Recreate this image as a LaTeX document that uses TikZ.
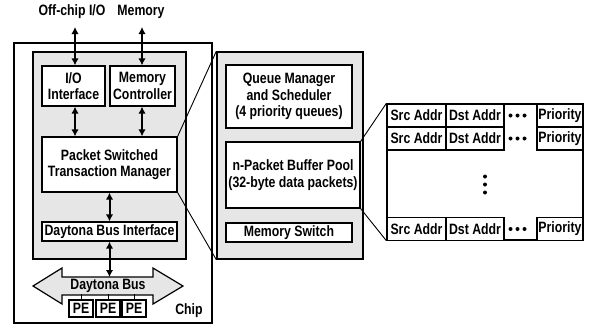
\documentclass[tikz,border=0pt]{standalone}
\usepackage{fontspec}
\setmainfont{Liberation Sans}[FakeStretch=0.82]
\usetikzlibrary{arrows.meta}
\definecolor{panelgray}{HTML}{E6E6E6}
\tikzset{
  txt/.style={font=\fontsize{15}{16.5}\selectfont\bfseries, inner sep=0pt, align=center},
  blk/.style={txt, draw, line width=1.3pt, fill=white},
  panel/.style={draw, line width=1.4pt, fill=panelgray},
  cell/.style={txt, draw, line width=1.3pt, fill=white, minimum height=23pt},
  biarrow/.style={line width=2pt, {Latex[length=7pt,width=7.5pt]}-{Latex[length=7pt,width=7.5pt]}},
  zoomline/.style={line width=0.9pt},
  dot/.style={fill, circle, inner sep=0pt, minimum size=4pt},
}
\begin{document}
\begin{tikzpicture}[x=1pt, y=-1pt]
\useasboundingbox (0,0) rectangle (589,327);

% ---------- chip ----------
\node[draw, line width=1.6pt, minimum width=198pt, minimum height=280pt, inner sep=0pt] (chip) at (113,183) {};
\node[panel, minimum width=153pt, minimum height=207pt, inner sep=0pt] (lp) at (109.5,155.5) {};

\node[blk, minimum width=63pt, minimum height=40pt] (io) at (73.5,86) {I/O\\Interface};
\node[blk, minimum width=65pt, minimum height=40pt] (mc) at (142.5,86) {Memory\\Controller};
\node[blk, minimum width=135pt, minimum height=55pt] (pstm) at (109.5,164.5) {Packet Switched\\Transaction Manager};
\node[blk, minimum width=135pt, minimum height=19pt] (dbi) at (109.5,231.5) {Daytona Bus Interface};

% off-chip labels and links
\node[txt] (offlbl) at (72,12) {Off-chip I/O};
\node[txt] (memlbl) at (141,12) {Memory};
\coordinate (offtop) at (75,27);
\coordinate (memtop) at (142,27);
\draw[biarrow] (offtop) -- (offtop |- io.north);
\draw[biarrow] (memtop) -- (memtop |- mc.north);

\draw[biarrow] (io.south -| offtop) -- (pstm.north -| offtop);
\draw[biarrow] (mc.south -| memtop) -- (pstm.north -| memtop);
\draw[biarrow] (pstm.south) -- (dbi.north);

% Daytona bus
\draw[line width=1.2pt, fill=panelgray]
  (33,286) -- (62,268) -- (62,277) -- (153,277) -- (153,268) -- (183,286)
  -- (153,304) -- (153,295) -- (62,295) -- (62,304) -- cycle;
\node[txt] (bus) at (108,286) {Daytona Bus};
\coordinate (bustop) at (109.5,277);
\draw[biarrow] (dbi.south) -- (bustop);

\node[blk, minimum width=24pt, minimum height=17pt] (pe1) at (81,308.5) {PE};
\node[blk, minimum width=24pt, minimum height=17pt] (pe2) at (108,308.5) {PE};
\node[blk, minimum width=24pt, minimum height=17pt] (pe3) at (134,308.5) {PE};
\foreach \p in {pe1,pe2,pe3}
  \draw[line width=1pt] (\p.north) -- ++(0,-5);

\node[txt] (chiplbl) at (189,311) {Chip};

% ---------- transaction manager detail ----------
\node[panel, minimum width=146pt, minimum height=207pt, inner sep=0pt] (rp) at (290,155.5) {};
\node[blk, minimum width=126pt, minimum height=63pt] (qm) at (289,96.5) {Queue Manager\\and Scheduler\\(4 priority queues)};
\node[blk, minimum width=134pt, minimum height=66pt] (bp) at (293,175) {n-Packet Buffer Pool\\(32-byte data packets)};
\node[blk, minimum width=126pt, minimum height=19pt] (ms) at (289,232.5) {Memory Switch};

\draw[zoomline] (pstm.north east) -- (rp.north west);
\draw[zoomline] (pstm.south east) -- (rp.south west);

% ---------- buffer pool detail ----------
\node[draw, line width=1.3pt, fill=white, minimum width=196pt, minimum height=136pt, inner sep=0pt] (tbl) at (485,172) {};
\draw[zoomline] (bp.north east) -- (tbl.north west);
\draw[zoomline] (bp.south east) -- (tbl.south west);

\foreach \r/\y in {a/115.5, b/138.5, c/229} {
  \node[cell, minimum width=59pt] (src\r) at (416.5,\y) {Src Addr};
  \node[cell, minimum width=58pt] (dst\r) at (475,\y) {Dst Addr};
  \node[cell, minimum width=46pt] (pri\r) at (560,\y) {Priority};
  \node[dot] at (510.5,\y) {};
  \node[dot] at (517.5,\y) {};
  \node[dot] at (524.5,\y) {};
}
\node[dot] at (485,176.5) {};
\node[dot] at (485,184.5) {};
\node[dot] at (485,192.5) {};
\end{tikzpicture}
\end{document}
